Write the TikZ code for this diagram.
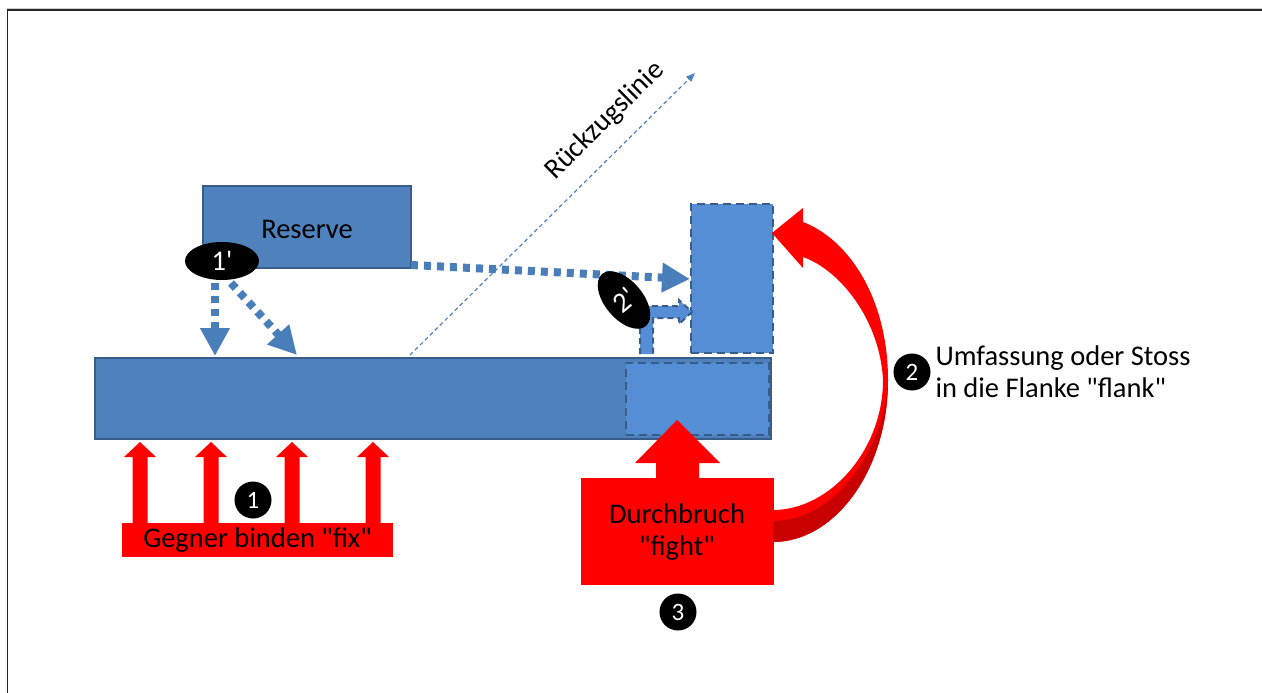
\documentclass[tikz,border=0pt]{standalone}
\usepackage{fontspec}
\setmainfont{Carlito}
\usetikzlibrary{arrows.meta,shapes.geometric,calc}
\definecolor{barblue}{HTML}{4F81BD}
\definecolor{edgeblue}{HTML}{385D8A}
\definecolor{lightblue}{HTML}{558ED5}
\definecolor{dotblue}{HTML}{4A7EBB}
\definecolor{darkred}{HTML}{C80000}
\definecolor{framegray}{HTML}{D0D0D0}
\newcommand\txtfont{\fontsize{28.5}{32}\selectfont}
\begin{document}
\begin{tikzpicture}[x=1pt,y=-1pt,
  bluebox/.style={draw=edgeblue,line width=1.5pt,fill=barblue,inner sep=0pt},
  dashbox/.style={draw=edgeblue,line width=2.2pt,dash pattern=on 8pt off 5pt,fill=lightblue,inner sep=0pt},
  blackoval/.style={ellipse,fill=black,text=white,inner sep=0pt,font=\txtfont},
  numdot/.style={circle,fill=black,text=white,minimum size=37pt,inner sep=0pt,font=\fontsize{25}{28}\selectfont},
  dotarrow/.style={draw=dotblue,line width=8pt,dash pattern=on 7pt off 6pt,-{Triangle[length=28pt,width=28pt,fill=dotblue]}},
  redbox/.style={fill=red,inner sep=0pt,text=black,font=\txtfont,align=center},
  lbl/.style={font=\txtfont,text=black}]
\useasboundingbox (0,0) rectangle (1262,693);
\fill[white] (0,0) rectangle (1262,693);
% frame
\draw[framegray,line width=1pt] (7,8.5) -- (1262,8.5);
\draw[black!85,line width=1.6pt] (7,10) -- (1262,10);
\draw[black!85,line width=1.6pt] (7.5,10) -- (7.5,693);

% main bar and boxes
\node[bluebox,minimum width=676pt,minimum height=81pt] (bar) at (433,398.5) {};
\node[dashbox,minimum width=143pt,minimum height=72pt] (brk) at (697.5,399) {};
\node[dashbox,minimum width=82pt,minimum height=149pt] (flank) at (732,278.5) {};
\node[bluebox,minimum width=208pt,minimum height=82pt,font=\txtfont] (res) at (307,227) {};
\node[lbl] (reslbl) at (307,229) {Reserve};

% retreat line
\coordinate (rl0) at (410,355);
\coordinate (rl1) at (695,73);
\draw[barblue,line width=1.2pt,dash pattern=on 4pt off 3pt,-{Triangle[length=9pt,width=7pt]}] (rl0) -- (rl1);
\node[lbl,rotate=44.7] (rltext) at (605,121) {Rückzugslinie};

% dotted arrows from reserve
\coordinate (v1s) at (215,283);
\coordinate (v1e) at (215,356);
\coordinate (v2s) at (231,283);
\coordinate (v2e) at (297,355);
\draw[dotarrow] (v1s) -- (v1e);
\draw[dotarrow] (v2s) -- (v2e);
\coordinate (hs) at (411,265);
\coordinate (he) at (690,279);
\draw[dotarrow] (hs) -- (he);

% 1' oval
\node[blackoval,minimum width=74pt,minimum height=38pt] (o1) at (222,261) {1\textquotesingle};

% bent arrow 2'
\fill[lightblue] (640,354) -- (640,306) -- (679,306) -- (679,300) -- (692,312) -- (679,324) -- (679,318) -- (653,318) -- (653,354) -- cycle;
\draw[edgeblue,line width=2pt,dash pattern=on 6pt off 4pt] (640,354) -- (640,306) -- (679,306) -- (679,300) -- (692,312) -- (679,324) -- (679,318) -- (653,318) -- (653,354);
\node[blackoval,minimum width=38pt,minimum height=68pt,rotate=40] (o2) at (624,300) {2\textquotesingle};

% red arrows fix
\foreach \x in {140,211,292,373}{
  \fill[red] ({\x-7.5},524) -- ({\x-7.5},457) -- ({\x-16},457) -- (\x,442) -- ({\x+16},457) -- ({\x+7.5},457) -- ({\x+7.5},524) -- cycle;
}
\node[redbox,minimum width=271pt,minimum height=34pt] (fix) at (257.5,540) {Gegner binden \textquotedbl fix\textquotedbl};
\node[numdot] (n1) at (253,500) {1};

% Durchbruch
\fill[red] (656,479) -- (656,463) -- (635,463) -- (677,420) -- (720,463) -- (699,463) -- (699,479) -- cycle;
\node[redbox,minimum width=193pt,minimum height=107pt] (fight) at (677.5,531) {};
\node[lbl,align=center] (fightlbl) at (677,532) {Durchbruch\\\textquotedbl fight\textquotedbl};
\node[numdot] (n3) at (678,612) {3};

% curved flank arrow
\fill[red] (773,542) .. controls (835,542) and (888,470) .. (888,380)
  .. controls (888,300) and (850,240) .. (803,222)
  -- (803,208) -- (772,233) -- (803,268) -- (803,257)
  .. controls (840,270) and (880,320) .. (883,380)
  .. controls (883,450) and (830,510) .. (773,510) -- cycle;
\fill[darkred] (773,542) .. controls (835,542) and (888,470) .. (888,380)
  .. controls (885,445) and (838,521) .. (773,521) -- cycle;

\node[numdot] (n2) at (912,372) {2};
\node[lbl,anchor=west,align=left] (flanklbl) at (932,372) {Umfassung oder Stoss\\in die Flanke \textquotedbl flank\textquotedbl};
\end{tikzpicture}
\end{document}
